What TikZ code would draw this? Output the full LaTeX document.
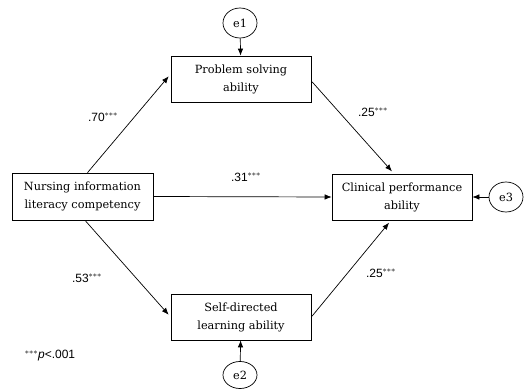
\documentclass[tikz,border=0pt]{standalone}
\usepackage{fontspec}
\setmainfont{DejaVu Serif}
\newfontfamily\numfont{Liberation Sans}
\usetikzlibrary{arrows.meta,shapes.geometric,calc}
\begin{document}
\begin{tikzpicture}[x=1pt,y=-1pt,
  box/.style={draw,line width=0.7pt,minimum width=140pt,minimum height=46pt,inner sep=0pt,align=center,font=\fontsize{11.3}{18}\selectfont},
  err/.style={draw,line width=0.7pt,ellipse,minimum width=34pt,minimum height=30pt,inner sep=0pt,font=\fontsize{11.3}{12}\selectfont},
  arr/.style={line width=0.7pt,-{Latex[length=7pt,width=5.5pt]}},
  coef/.style={font=\numfont\fontsize{12}{12}\selectfont,inner sep=0pt}]
\useasboundingbox (0,0) rectangle (528,390);
\node[box] (prob) at (241,79) {Problem solving\\ability};
\node[box,minimum width=141pt,minimum height=47pt] (nurs) at (82.5,196.5) {Nursing information\\literacy competency};
\node[box] (clin) at (402,197) {Clinical performance\\ability};
\node[box] (self) at (241,317) {Self-directed\\learning ability};
\node[err] (e1) at (240,23) {e1};
\node[err,minimum height=27pt] (e2) at (240,375) {e2};
\node[err] (e3) at (506,197) {e3};
\draw[arr] (e1) -- (prob);
\draw[arr] (e2) -- (self);
\draw[arr] (e3) -- (clin);
\draw[arr,shorten >=3pt] ([xshift=5pt]nurs.north) -- ([yshift=5pt]prob.west);
\draw[arr,shorten >=3pt,shorten <=1pt] ([yshift=-2pt]prob.east) -- ([xshift=-8pt]clin.north);
\draw[arr] (nurs.east) -- (clin.west);
\draw[arr,shorten >=3pt,shorten <=1pt] ([xshift=2.5pt]nurs.south) -- (self.west);
\draw[arr,shorten >=3pt,shorten <=1pt] (self.east) -- ([xshift=-11pt]clin.south);
\node[coef] (c1) at (103,117) {.70$^{***}$};
\node[coef] (c2) at (246,177) {.31$^{***}$};
\node[coef] (c3) at (373,112) {.25$^{***}$};
\node[coef] (c4) at (87,278) {.53$^{***}$};
\node[coef] (c5) at (381,273) {.25$^{***}$};
\node[coef] (note) at (50,356) {$^{***}$\textit{p}<.001};
\end{tikzpicture}
\end{document}
